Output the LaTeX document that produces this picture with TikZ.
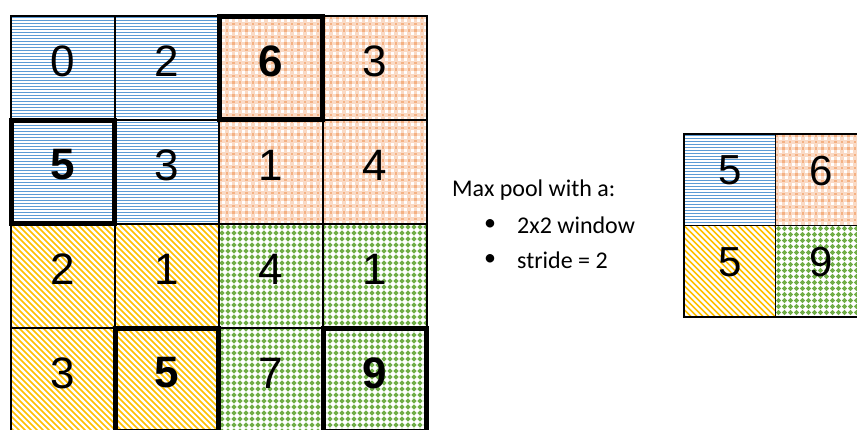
\documentclass[tikz,border=0pt]{standalone}
\usepackage{fontspec}
\setmainfont{Liberation Sans}
\newfontfamily\notefont{Carlito}

\definecolor{stripeblue}{HTML}{5B9BD5}
\definecolor{stripeyellow}{HTML}{FFC000}
\definecolor{dotgreen}{HTML}{70AD47}
\definecolor{checkorange}{HTML}{F4B183}
\definecolor{checklight}{HTML}{FADAC5}

% Pattern fills for a rectangle given as {x1}{y1}{x2}{y2} (y grows downwards)
\newcommand\blueHfill[4]{%
  \begin{scope}
    \clip (#1,#2) rectangle (#3,#4);
    \fill[white] (#1,#2) rectangle (#3,#4);
    \foreach \k in {0,...,72}
      \draw[stripeblue,line width=1.5pt] (#1,#2+1.5+3*\k) -- (#3,#2+1.5+3*\k);
  \end{scope}}
\newcommand\yellowDfill[4]{%
  \begin{scope}
    \clip (#1,#2) rectangle (#3,#4);
    \fill[white] (#1,#2) rectangle (#3,#4);
    \foreach \c in {-216,-210,...,216}
      \draw[stripeyellow,line width=1.7pt] (#1+\c,#2) -- (#1+\c+215,#2+215);
  \end{scope}}
\newcommand\greenDotfill[4]{%
  \begin{scope}
    \clip (#1,#2) rectangle (#3,#4);
    \fill[white] (#1,#2) rectangle (#3,#4);
    \foreach \i in {0,...,35}
      \foreach \j in {0,...,35}
        \fill[dotgreen] (#1+3+6*\i,#2+3+6*\j)
          +(0,-2.6) -- +(2.6,0) -- +(0,2.6) -- +(-2.6,0) -- cycle;
  \end{scope}}
\newcommand\orangeCheckfill[4]{%
  \begin{scope}
    \clip (#1,#2) rectangle (#3,#4);
    \fill[checklight] (#1,#2) rectangle (#3,#4);
    \foreach \i in {0,...,33}
      \foreach \j in {0,...,33}{
        \fill[checkorange] (#1+6.5*\i,#2+6.5*\j) rectangle +(2.6,2.6);
        \fill[white] (#1+6.5*\i+3.3,#2+6.5*\j+3.3) rectangle +(2.8,2.8);
      }
  \end{scope}}

\begin{document}
\begin{tikzpicture}[x=1pt,y=-1pt,
  cell/.style={draw=black,line width=1.4pt,minimum size=104pt,inner sep=0pt},
  smallcell/.style={draw=black,line width=1.4pt,minimum size=91.5pt,inner sep=0pt},
  maxbox/.style={draw=black,line width=4.5pt,minimum size=103pt,inner sep=0pt},
  digit/.style={inner sep=0pt,font=\fontsize{44}{48}\selectfont,yshift=7pt},
  bigdigit/.style={digit,font=\fontsize{44}{48}\selectfont\bfseries},
  smalldigit/.style={inner sep=0pt,font=\fontsize{42}{46}\selectfont,yshift=9pt},
  note/.style={inner sep=0pt,anchor=west,font=\notefont\fontsize{24}{28}\selectfont}]

\useasboundingbox (0,0) rectangle (857,429);
\clip (0,0) rectangle (857,429);

% input feature map: 4x4, cell size 104
\blueHfill{11}{16}{219}{224}
\orangeCheckfill{219}{16}{427}{224}
\yellowDfill{11}{224}{219}{432}
\greenDotfill{219}{224}{427}{432}

\foreach \r in {0,...,3}
  \foreach \c in {0,...,3}
    \node[cell] (c\r\c) at (63+104*\c,68+104*\r) {};

\node[digit]    (d00) at (c00) {0};
\node[digit]    (d01) at (c01) {2};
\node[bigdigit] (d02) at (c02) {6};
\node[digit]    (d03) at (c03) {3};
\node[bigdigit] (d10) at (c10) {5};
\node[digit]    (d11) at (c11) {3};
\node[digit]    (d12) at (c12) {1};
\node[digit]    (d13) at (c13) {4};
\node[digit]    (d20) at (c20) {2};
\node[digit]    (d21) at (c21) {1};
\node[digit]    (d22) at (c22) {4};
\node[digit]    (d23) at (c23) {1};
\node[digit]    (d30) at (c30) {3};
\node[bigdigit] (d31) at (c31) {5};
\node[digit]    (d32) at (c32) {7};
\node[bigdigit] (d33) at (c33) {9};

% maxima of each 2x2 window
\node[maxbox] (m02) at (c02) {};
\node[maxbox] (m10) at (c10) {};
\node[maxbox] (m31) at (c31) {};
\node[maxbox] (m33) at (c33) {};

% description
\node[note] (title) at (452,190) {Max pool with a:};
\node[note] (b1) at (484,225) {•};
\node[note] (t1) at (517,225) {2x2 window};
\node[note] (b2) at (484,260) {•};
\node[note] (t2) at (517,260) {stride = 2};

% pooled output: 2x2
\blueHfill{684}{134}{775.5}{225.5}
\orangeCheckfill{775.5}{134}{867}{225.5}
\yellowDfill{684}{225.5}{775.5}{317}
\greenDotfill{775.5}{225.5}{867}{317}

\foreach \r in {0,1}
  \foreach \c in {0,1}
    \node[smallcell] (p\r\c) at (729.75+91.5*\c,179.75+91.5*\r) {};

\node[smalldigit] (q00) at (p00) {5};
\node[smalldigit] (q01) at (p01) {6};
\node[smalldigit] (q10) at (p10) {5};
\node[smalldigit] (q11) at (p11) {9};
\end{tikzpicture}
\end{document}
